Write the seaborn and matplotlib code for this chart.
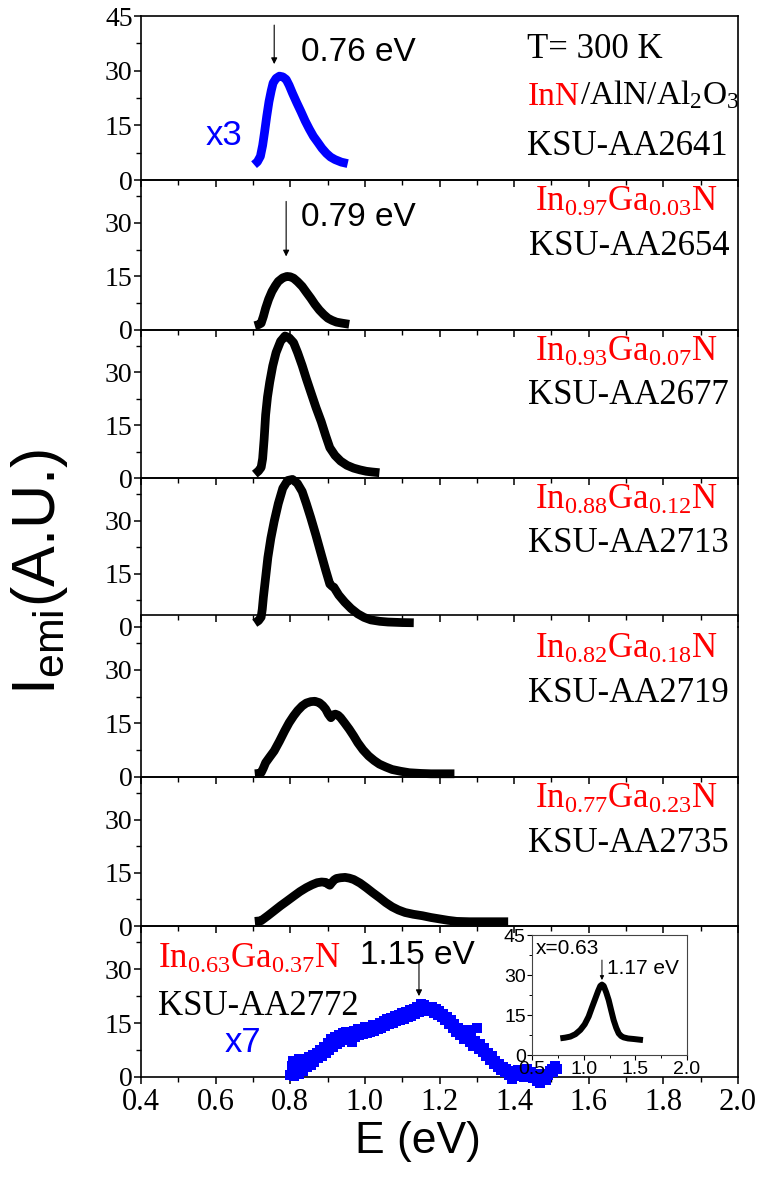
import matplotlib
matplotlib.use("Agg")
import matplotlib.pyplot as plt
from matplotlib.ticker import MultipleLocator, FormatStrFormatter
import seaborn as sns
import numpy as np

# ---------------- data ----------------
E1 = [0.703, 0.712, 0.72, 0.726, 0.731, 0.737, 0.743, 0.749, 0.754, 0.762, 0.771, 0.78, 0.789, 0.797,
      0.806, 0.817, 0.829, 0.84, 0.851, 0.862, 0.874, 0.885, 0.897, 0.908, 0.92, 0.937, 0.954]
I1 = [4.2, 5.0, 6.5, 9.5, 13.0, 17.5, 21.5, 24.5, 26.6, 27.9, 28.5, 28.3, 27.6, 26.0,
      23.8, 21.3, 18.7, 16.2, 14.0, 12.0, 10.3, 8.7, 7.3, 6.3, 5.6, 4.9, 4.5]

E2 = [0.705, 0.715, 0.722, 0.728, 0.734, 0.742, 0.751, 0.76, 0.768, 0.78, 0.791, 0.8, 0.809, 0.82,
      0.832, 0.843, 0.855, 0.866, 0.878, 0.89, 0.901, 0.912, 0.924, 0.94, 0.958]
I2 = [1.2, 1.5, 1.9, 3.8, 6.1, 8.6, 10.8, 12.4, 13.6, 14.6, 15.0, 14.9, 14.5, 13.5,
      12.2, 10.6, 8.9, 7.2, 5.6, 4.3, 3.3, 2.7, 2.2, 1.9, 1.6]

E3 = [0.705, 0.715, 0.722, 0.726, 0.73, 0.734, 0.739, 0.745, 0.753, 0.762, 0.774, 0.786, 0.797, 0.809,
      0.82, 0.832, 0.843, 0.855, 0.869, 0.883, 0.895, 0.906, 0.92, 0.935, 0.952, 0.97, 0.987, 1.004,
      1.02, 1.039]
I3 = [1.1, 2.0, 3.0, 5.5, 11.0, 17.9, 23.0, 27.2, 31.8, 35.6, 38.8, 40.3, 39.8, 38.4,
      35.5, 31.9, 28.2, 24.4, 20.0, 16.0, 12.0, 8.6, 6.4, 4.8, 3.6, 2.8, 2.3, 1.9,
      1.7, 1.5]

E4 = [0.705, 0.715, 0.722, 0.725, 0.728, 0.734, 0.74, 0.748, 0.757, 0.768, 0.78, 0.793, 0.806, 0.819,
      0.832, 0.843, 0.855, 0.869, 0.883, 0.895, 0.906, 0.912, 0.917, 0.93, 0.946, 0.963, 0.981, 0.998,
      1.016, 1.04, 1.062, 1.1, 1.131]
I4 = [1.1, 1.8, 2.8, 5.0, 8.4, 14.0, 19.6, 25.0, 29.8, 34.8, 39.1, 41.3, 41.6, 40.5,
      38.2, 34.8, 30.8, 25.8, 20.5, 16.0, 12.1, 11.5, 11.2, 9.0, 7.0, 5.2, 3.7, 2.7,
      2.0, 1.6, 1.4, 1.25, 1.2]

E5 = [0.705, 0.715, 0.722, 0.728, 0.734, 0.745, 0.757, 0.771, 0.785, 0.797, 0.809, 0.82, 0.832, 0.843,
      0.855, 0.866, 0.878, 0.887, 0.895, 0.902, 0.909, 0.915, 0.921, 0.928, 0.935, 0.946, 0.958, 0.97,
      0.981, 0.995, 1.01, 1.025, 1.039, 1.056, 1.073, 1.096, 1.119, 1.15, 1.177, 1.21, 1.24]
I5 = [0.9, 1.0, 1.2, 2.5, 4.0, 5.6, 7.3, 10.0, 12.9, 15.2, 17.1, 18.6, 19.9, 20.7,
      21.1, 21.2, 20.8, 20.0, 19.0, 17.6, 16.6, 17.4, 17.6, 17.3, 16.6, 15.1, 13.4, 11.5,
      9.6, 7.6, 5.9, 4.6, 3.6, 2.8, 2.1, 1.6, 1.2, 1.0, 0.9, 0.9, 0.9]

E6 = [0.705, 0.715, 0.722, 0.74, 0.757, 0.774, 0.791, 0.809, 0.826, 0.843, 0.858, 0.872, 0.884, 0.895,
      0.901, 0.906, 0.912, 0.918, 0.924, 0.935, 0.947, 0.958, 0.97, 0.987, 1.004, 1.021, 1.039, 1.056,
      1.073, 1.09, 1.108, 1.13, 1.154, 1.177, 1.2, 1.223, 1.246, 1.28, 1.315, 1.35, 1.384]
I6 = [1.3, 1.4, 1.5, 2.9, 4.3, 5.7, 7.0, 8.4, 9.7, 10.8, 11.6, 12.2, 12.4, 12.3,
      11.8, 11.5, 12.3, 13.0, 13.4, 13.6, 13.7, 13.5, 13.1, 12.1, 10.8, 9.4, 8.0, 6.6,
      5.4, 4.5, 3.8, 3.3, 2.9, 2.4, 2.0, 1.6, 1.3, 1.2, 1.2, 1.2, 1.2]

E7 = [0.800, 0.803, 0.805, 0.808, 0.81, 0.813, 0.815, 0.818, 0.82, 0.823, 0.825, 0.828, 0.83, 0.835,
      0.84, 0.845, 0.85, 0.855, 0.86, 0.865, 0.87, 0.875, 0.88, 0.885, 0.89, 0.895, 0.90, 0.905,
      0.91, 0.915, 0.92, 0.925, 0.93, 0.935, 0.94, 0.945, 0.95, 0.955, 0.96, 0.965, 0.97, 0.975,
      0.98, 0.985, 0.99, 0.995, 1.00, 1.005, 1.01, 1.015, 1.02, 1.025, 1.03, 1.035, 1.04, 1.045,
      1.05, 1.055, 1.06, 1.065, 1.07, 1.075, 1.08, 1.085, 1.09, 1.095, 1.10, 1.105, 1.11, 1.115,
      1.12, 1.125, 1.13, 1.135, 1.14, 1.145, 1.15, 1.155, 1.16, 1.165, 1.17, 1.175, 1.18, 1.185,
      1.19, 1.195, 1.20, 1.205, 1.21, 1.215, 1.22, 1.225, 1.23, 1.235, 1.24, 1.245, 1.25, 1.255,
      1.26, 1.265, 1.27, 1.275, 1.28, 1.285, 1.29, 1.295, 1.30, 1.305, 1.31, 1.315, 1.32, 1.325,
      1.33, 1.335, 1.34, 1.345, 1.35, 1.355, 1.36, 1.365, 1.37, 1.375, 1.38, 1.385, 1.39, 1.395,
      1.40, 1.405, 1.41, 1.415, 1.42, 1.425, 1.43, 1.435, 1.44, 1.445, 1.45, 1.455, 1.46, 1.465,
      1.47, 1.475, 1.48, 1.485, 1.49, 1.495, 1.50, 1.505, 1.51, 1.515]
I7 = [0.5, 3.0, 1.8, 4.4, 0.2, 2.6, 4.0, 1.2, 3.2, 5.0, 0.8, 2.4, 4.2, 1.6,
      4.6, 2.6, 5.6, 3.2, 6.2, 4.0, 6.8, 5.2, 7.6, 5.8, 8.4, 6.6, 9.6, 7.4,
      10.6, 8.4, 11.2, 9.2, 11.8, 9.8, 12.2, 10.2, 12.6, 10.6, 12.0, 9.8, 12.8, 11.0,
      13.4, 11.6, 13.0, 12.0, 14.0, 12.2, 13.6, 12.6, 14.6, 12.8, 14.4, 13.4, 15.2, 13.6,
      15.6, 14.0, 16.2, 14.6, 16.6, 15.0, 17.0, 15.4, 17.4, 15.8, 17.8, 16.2, 18.2, 16.6,
      18.6, 17.0, 19.0, 17.6, 19.4, 18.0, 20.4, 18.4, 20.0, 18.6, 19.6, 18.2, 19.4, 17.8,
      19.0, 17.2, 18.4, 16.6, 17.6, 15.8, 16.8, 14.6, 15.8, 13.6, 14.8, 12.6, 13.8, 11.6,
      12.8, 10.6, 12.2, 13.0, 9.6, 11.2, 8.6, 10.2, 13.6, 7.8, 9.2, 6.8, 8.0, 5.8,
      6.8, 4.6, 5.8, 3.6, 4.6, 2.8, 3.6, 2.0, 2.8, 1.2, 2.2, 0.6, 1.8, -0.6,
      1.4, 0.2, 2.0, 0.6, 1.6, 0.0, 1.0, 2.2, 0.4, 1.4, -0.4, 1.0, -1.2, 0.6,
      -1.6, -0.2, 0.8, -0.8, 0.4, 1.6, 2.4, 1.2, 3.0, 2.2]

E_in = [0.774, 0.82, 0.871, 0.92, 0.968, 1.01, 1.048, 1.08, 1.113, 1.14, 1.161, 1.177, 1.194, 1.218,
        1.242, 1.266, 1.29, 1.315, 1.339, 1.363, 1.387, 1.43, 1.484, 1.574]
I_in = [6.25, 6.5, 6.9, 7.8, 9.4, 11.5, 14.4, 17.8, 21.2, 24.0, 25.9, 26.4, 25.9, 23.5,
        20.6, 16.8, 13.1, 10.2, 8.1, 7.1, 6.6, 6.2, 6.0, 5.6]

compositions = [None, ("0.97", "0.03"), ("0.93", "0.07"), ("0.88", "0.12"),
                ("0.82", "0.18"), ("0.77", "0.23"), ("0.63", "0.37")]
samples = ["KSU-AA2641", "KSU-AA2654", "KSU-AA2677", "KSU-AA2713",
           "KSU-AA2719", "KSU-AA2735", "KSU-AA2772"]
inset_xticks = [0.5, 1.0, 1.5, 2.0]

# ---------------- style ----------------
sns.set_style("ticks")
plt.rcParams['font.family'] = ['Liberation Serif', 'DejaVu Serif']
plt.rcParams['mathtext.fontset'] = 'custom'
plt.rcParams['mathtext.rm'] = 'Liberation Serif'
for key in ['text.color', 'axes.labelcolor', 'xtick.color', 'ytick.color', 'axes.edgecolor']:
    plt.rcParams[key] = 'black'
SANS = ['Liberation Sans', 'DejaVu Sans']
SERIF = ['Liberation Serif', 'DejaVu Serif']
BLUE = '#0000FF'
RED = '#FF0000'

W, H = 760, 1185
fig = plt.figure(figsize=(W / 100, H / 100), dpi=100)
fig.patch.set_facecolor('white')

left_px, right_px = 141, 738
bounds = [16, 180, 330, 478, 627, 777, 926, 1077]
axes = []
for k in range(7):
    top, bot = bounds[k], bounds[k + 1]
    ax = fig.add_axes([left_px / W, 1 - bot / H, (right_px - left_px) / W, (bot - top) / H])
    ax.set_facecolor('none')
    ax.set_xlim(0.4, 2.0)
    ax.set_ylim(0, 45 if k == 0 else 42)
    ax.xaxis.set_major_locator(MultipleLocator(0.2))
    ax.xaxis.set_minor_locator(MultipleLocator(0.1))
    ax.yaxis.set_major_locator(MultipleLocator(15))
    ax.yaxis.set_minor_locator(MultipleLocator(7.5))
    ax.tick_params(which='major', direction='out', length=5, width=1.1, labelsize=20, pad=1,
                   colors='black')
    ax.tick_params(which='minor', direction='out', length=3.5, width=1.0, colors='black')
    ax.tick_params(axis='x', which='both', top=False)
    ax.tick_params(axis='y', which='both', right=False)
    for s in ax.spines.values():
        s.set_linewidth(1.2)
        s.set_color('black')
    if k < 6:
        ax.tick_params(axis='x', labelbottom=False)
    else:
        ax.xaxis.set_major_formatter(FormatStrFormatter('%.1f'))
        ax.tick_params(axis='x', which='major', labelsize=22, pad=3)
    axes.append(ax)

axes[3].spines['bottom'].set_position(('data', 3.3))
axes[4].spines['top'].set_visible(False)

LW = 6.3
curves = [(E1, I1, BLUE), (E2, I2, 'black'), (E3, I3, 'black'), (E4, I4, 'black'),
          (E5, I5, 'black'), (E6, I6, 'black')]
for k, (e, i, c) in enumerate(curves):
    sns.lineplot(x=e, y=i, ax=axes[k], color=c, linewidth=LW, sort=False,
                 estimator=None, clip_on=False, solid_capstyle='butt', solid_joinstyle='round')

sns.scatterplot(x=E7, y=I7, ax=axes[6], marker='s', s=48, color=BLUE,
                edgecolor='none', linewidth=0, clip_on=False, zorder=3)
for ax in axes:
    ax.set_xlabel('')
    ax.set_ylabel('')

arrow_kw = dict(arrowstyle='-|>', lw=0.8, color='black', shrinkA=0, shrinkB=0, mutation_scale=9)

# Panel 1 annotations
a = axes[0]
a.annotate('', xy=(0.757, 31.8), xytext=(0.757, 42.5), arrowprops=arrow_kw)
a.text(0.83, 35, '0.76 eV', family=SANS, fontsize=24, va='center', ha='left')
a.text(0.573, 12.1, 'x3', family=SANS, fontsize=25, va='center', ha='left', color=BLUE)
a.text(0.646, 0.744, 'T= 300 K', transform=a.transAxes, family=SERIF, fontsize=25,
       va='baseline', ha='left')
t_inn = a.text(0.648, 0.46, 'InN', transform=a.transAxes, family=SERIF, fontsize=24,
               va='baseline', ha='left', color=RED)
a.text(0.646, 0.15, samples[0], transform=a.transAxes, family=SERIF, fontsize=25,
       va='baseline', ha='left')

# Panel 2 annotations
a = axes[1]
a.annotate('', xy=(0.789, 20.6), xytext=(0.789, 36.0), arrowprops=arrow_kw)
a.text(0.83, 31.4, '0.79 eV', family=SANS, fontsize=24, va='center', ha='left')

# composition + sample labels panels 2-6
for k in range(1, 6):
    a = axes[k]
    xin, ga = compositions[k]
    a.text(0.966, 0.793, r'$\mathregular{In_{%s}Ga_{%s}N}$' % (xin, ga), transform=a.transAxes,
           family=SERIF, fontsize=25, color=RED, va='baseline', ha='right')
    a.text(0.985, 0.50, samples[k], transform=a.transAxes, family=SERIF, fontsize=25,
           va='baseline', ha='right')

# Panel 7 annotations
a = axes[6]
xin, ga = compositions[6]
a.text(0.028, 0.722, r'$\mathregular{In_{%s}Ga_{%s}N}$' % (xin, ga), transform=a.transAxes,
       family=SERIF, fontsize=25, color=RED, va='baseline', ha='left')
a.text(0.028, 0.41, samples[6], transform=a.transAxes, family=SERIF, fontsize=25,
       va='baseline', ha='left')
a.text(0.625, 9.6, 'x7', family=SANS, fontsize=25, va='center', ha='left', color=BLUE)
a.text(1.14, 33.9, '1.15 eV', family=SANS, fontsize=24, va='center', ha='center')
a.annotate('', xy=(1.145, 22.5), xytext=(1.145, 31.7), arrowprops=arrow_kw)

# Inset
ins = fig.add_axes([532 / W, 1 - 1055 / H, 155 / W, 120 / H])
ins.set_facecolor('white')
sns.lineplot(x=E_in, y=I_in, ax=ins, color='black', linewidth=4.3, sort=False,
             estimator=None, solid_capstyle='butt')
ins.set_xlabel('')
ins.set_ylabel('')
ins.set_xlim(0.5, 2.0)
ins.set_ylim(0, 45)
ins.set_xticks(inset_xticks)
ins.xaxis.set_minor_locator(MultipleLocator(0.25))
ins.yaxis.set_major_locator(MultipleLocator(15))
ins.yaxis.set_minor_locator(MultipleLocator(7.5))
ins.xaxis.set_major_formatter(FormatStrFormatter('%.1f'))
ins.tick_params(which='major', direction='out', length=3.5, width=0.8, labelsize=14, pad=1,
                labelfontfamily='Liberation Sans', colors='black')
ins.tick_params(which='minor', direction='out', length=2, width=0.7, colors='black')
for s in ins.spines.values():
    s.set_linewidth(0.8)
    s.set_color('#444444')
ins.text(0.54, 40, 'x=0.63', family=SANS, fontsize=15, va='center', ha='left')
ins.text(1.226, 32.4, '1.17 eV', family=SANS, fontsize=15, va='center', ha='left')
ins.annotate('', xy=(1.177, 28.1), xytext=(1.177, 35.6),
             arrowprops=dict(arrowstyle='-|>', lw=0.7, color='black', shrinkA=0, shrinkB=0,
                             mutation_scale=6))

# axis labels
fig.text(418 / W, 1 - 1142 / H, 'E (eV)', family=SANS, fontsize=32, ha='center', va='center')
fig.text(40 / W, 1 - 572 / H, r'$\mathregular{I_{emi}}$(A.U.)', family=SANS, fontsize=44,
         rotation=90, ha='center', va='center')

# second half of the multi-coloured substrate label, placed right after "InN"
fig.canvas.draw()
bb = t_inn.get_window_extent()
x_next = axes[0].transAxes.inverted().transform((bb.x1, bb.y0))[0]
axes[0].text(x_next, 0.46, r'$\mathregular{/AlN/Al_2O_3}$', transform=axes[0].transAxes,
             family=SERIF, fontsize=24, va='baseline', ha='left')

fig.savefig('out.png', dpi=100)
